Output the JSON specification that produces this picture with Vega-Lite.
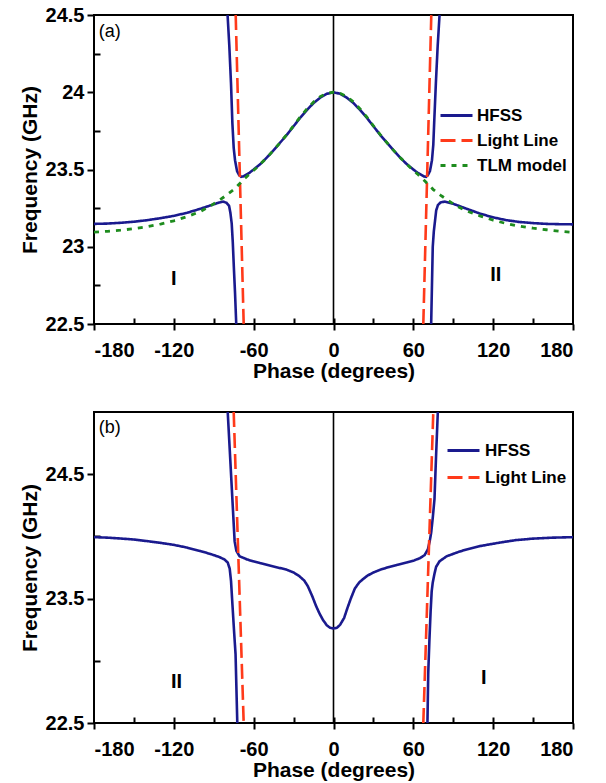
{
  "$schema": "https://vega.github.io/schema/vega-lite/v6.json",
  "background": "white",
  "padding": {"left": 18, "top": 4, "right": 5, "bottom": 2},
  "config": {
    "view": {"stroke": "black", "strokeWidth": 2},
    "font": "Liberation Sans",
    "axis": {"labelFont": "Liberation Sans", "labelFontWeight": "bold", "labelFontSize": 20, "labelColor": "black", "titleFont": "Liberation Sans", "titleFontWeight": "bold", "titleFontSize": 21, "titleColor": "black", "tickColor": "black", "tickWidth": 2, "domain": false, "grid": false},
    "legend": {"labelFont": "Liberation Sans", "labelFontWeight": "bold", "labelFontSize": 17, "labelColor": "black"}
  },
  "datasets": {
    "a_lines": [
      {"series": "HFSS", "branch": "L", "phase": -180, "freq": 23.148},
      {"series": "HFSS", "branch": "L", "phase": -170, "freq": 23.15},
      {"series": "HFSS", "branch": "L", "phase": -160, "freq": 23.155},
      {"series": "HFSS", "branch": "L", "phase": -150, "freq": 23.162},
      {"series": "HFSS", "branch": "L", "phase": -140, "freq": 23.172},
      {"series": "HFSS", "branch": "L", "phase": -130, "freq": 23.185},
      {"series": "HFSS", "branch": "L", "phase": -120, "freq": 23.2},
      {"series": "HFSS", "branch": "L", "phase": -110, "freq": 23.22},
      {"series": "HFSS", "branch": "L", "phase": -100, "freq": 23.246},
      {"series": "HFSS", "branch": "L", "phase": -95, "freq": 23.26},
      {"series": "HFSS", "branch": "L", "phase": -90, "freq": 23.275},
      {"series": "HFSS", "branch": "L", "phase": -86, "freq": 23.286},
      {"series": "HFSS", "branch": "L", "phase": -83, "freq": 23.292},
      {"series": "HFSS", "branch": "L", "phase": -80.5, "freq": 23.285},
      {"series": "HFSS", "branch": "L", "phase": -78.5, "freq": 23.265},
      {"series": "HFSS", "branch": "L", "phase": -77.5, "freq": 23.22},
      {"series": "HFSS", "branch": "L", "phase": -76.5, "freq": 23.15},
      {"series": "HFSS", "branch": "L", "phase": -75.7, "freq": 23.03},
      {"series": "HFSS", "branch": "L", "phase": -74.8, "freq": 22.85},
      {"series": "HFSS", "branch": "L", "phase": -74, "freq": 22.7},
      {"series": "HFSS", "branch": "L", "phase": -73.1, "freq": 22.5},
      {"series": "HFSS", "branch": "C", "phase": -79.6, "freq": 24.5},
      {"series": "HFSS", "branch": "C", "phase": -78.3, "freq": 24.3},
      {"series": "HFSS", "branch": "C", "phase": -77, "freq": 24.05},
      {"series": "HFSS", "branch": "C", "phase": -76, "freq": 23.8},
      {"series": "HFSS", "branch": "C", "phase": -75, "freq": 23.64},
      {"series": "HFSS", "branch": "C", "phase": -74, "freq": 23.56},
      {"series": "HFSS", "branch": "C", "phase": -72.5, "freq": 23.49},
      {"series": "HFSS", "branch": "C", "phase": -71, "freq": 23.465},
      {"series": "HFSS", "branch": "C", "phase": -69.4, "freq": 23.452},
      {"series": "HFSS", "branch": "C", "phase": -68, "freq": 23.455},
      {"series": "HFSS", "branch": "C", "phase": -66, "freq": 23.465},
      {"series": "HFSS", "branch": "C", "phase": -63, "freq": 23.48},
      {"series": "HFSS", "branch": "C", "phase": -60, "freq": 23.5},
      {"series": "HFSS", "branch": "C", "phase": -55, "freq": 23.535},
      {"series": "HFSS", "branch": "C", "phase": -50, "freq": 23.578},
      {"series": "HFSS", "branch": "C", "phase": -45, "freq": 23.625},
      {"series": "HFSS", "branch": "C", "phase": -40, "freq": 23.675},
      {"series": "HFSS", "branch": "C", "phase": -35, "freq": 23.725},
      {"series": "HFSS", "branch": "C", "phase": -30, "freq": 23.78},
      {"series": "HFSS", "branch": "C", "phase": -25, "freq": 23.835},
      {"series": "HFSS", "branch": "C", "phase": -20, "freq": 23.885},
      {"series": "HFSS", "branch": "C", "phase": -15, "freq": 23.93},
      {"series": "HFSS", "branch": "C", "phase": -10, "freq": 23.965},
      {"series": "HFSS", "branch": "C", "phase": -5, "freq": 23.99},
      {"series": "HFSS", "branch": "C", "phase": 0, "freq": 24.0},
      {"series": "HFSS", "branch": "C", "phase": 5, "freq": 23.99},
      {"series": "HFSS", "branch": "C", "phase": 10, "freq": 23.965},
      {"series": "HFSS", "branch": "C", "phase": 15, "freq": 23.93},
      {"series": "HFSS", "branch": "C", "phase": 20, "freq": 23.885},
      {"series": "HFSS", "branch": "C", "phase": 25, "freq": 23.835},
      {"series": "HFSS", "branch": "C", "phase": 30, "freq": 23.78},
      {"series": "HFSS", "branch": "C", "phase": 35, "freq": 23.725},
      {"series": "HFSS", "branch": "C", "phase": 40, "freq": 23.675},
      {"series": "HFSS", "branch": "C", "phase": 45, "freq": 23.625},
      {"series": "HFSS", "branch": "C", "phase": 50, "freq": 23.578},
      {"series": "HFSS", "branch": "C", "phase": 55, "freq": 23.535},
      {"series": "HFSS", "branch": "C", "phase": 60, "freq": 23.5},
      {"series": "HFSS", "branch": "C", "phase": 63, "freq": 23.48},
      {"series": "HFSS", "branch": "C", "phase": 66, "freq": 23.465},
      {"series": "HFSS", "branch": "C", "phase": 68, "freq": 23.455},
      {"series": "HFSS", "branch": "C", "phase": 69.6, "freq": 23.452},
      {"series": "HFSS", "branch": "C", "phase": 71, "freq": 23.465},
      {"series": "HFSS", "branch": "C", "phase": 72.5, "freq": 23.49},
      {"series": "HFSS", "branch": "C", "phase": 74, "freq": 23.56},
      {"series": "HFSS", "branch": "C", "phase": 75, "freq": 23.66},
      {"series": "HFSS", "branch": "C", "phase": 75.9, "freq": 23.85},
      {"series": "HFSS", "branch": "C", "phase": 77, "freq": 24.07},
      {"series": "HFSS", "branch": "C", "phase": 78.3, "freq": 24.3},
      {"series": "HFSS", "branch": "C", "phase": 79.7, "freq": 24.5},
      {"series": "HFSS", "branch": "R", "phase": 73.4, "freq": 22.5},
      {"series": "HFSS", "branch": "R", "phase": 74, "freq": 22.75},
      {"series": "HFSS", "branch": "R", "phase": 74.6, "freq": 23.0},
      {"series": "HFSS", "branch": "R", "phase": 75.4, "freq": 23.1},
      {"series": "HFSS", "branch": "R", "phase": 76.2, "freq": 23.16},
      {"series": "HFSS", "branch": "R", "phase": 77.2, "freq": 23.236},
      {"series": "HFSS", "branch": "R", "phase": 78.5, "freq": 23.27},
      {"series": "HFSS", "branch": "R", "phase": 80.5, "freq": 23.287},
      {"series": "HFSS", "branch": "R", "phase": 83.5, "freq": 23.292},
      {"series": "HFSS", "branch": "R", "phase": 90, "freq": 23.278},
      {"series": "HFSS", "branch": "R", "phase": 100, "freq": 23.246},
      {"series": "HFSS", "branch": "R", "phase": 110, "freq": 23.215},
      {"series": "HFSS", "branch": "R", "phase": 120, "freq": 23.19},
      {"series": "HFSS", "branch": "R", "phase": 130, "freq": 23.172},
      {"series": "HFSS", "branch": "R", "phase": 140, "freq": 23.16},
      {"series": "HFSS", "branch": "R", "phase": 150, "freq": 23.153},
      {"series": "HFSS", "branch": "R", "phase": 160, "freq": 23.148},
      {"series": "HFSS", "branch": "R", "phase": 170, "freq": 23.146},
      {"series": "HFSS", "branch": "R", "phase": 180, "freq": 23.145},
      {"series": "Light Line", "branch": "LL", "phase": -73.5, "freq": 24.5},
      {"series": "Light Line", "branch": "LL", "phase": -67.5, "freq": 22.5},
      {"series": "Light Line", "branch": "LR", "phase": 67.5, "freq": 22.5},
      {"series": "Light Line", "branch": "LR", "phase": 73.5, "freq": 24.5},
      {"series": "TLM model", "branch": "T", "phase": -180, "freq": 23.095},
      {"series": "TLM model", "branch": "T", "phase": -170, "freq": 23.1},
      {"series": "TLM model", "branch": "T", "phase": -160, "freq": 23.107},
      {"series": "TLM model", "branch": "T", "phase": -150, "freq": 23.117},
      {"series": "TLM model", "branch": "T", "phase": -140, "freq": 23.13},
      {"series": "TLM model", "branch": "T", "phase": -130, "freq": 23.147},
      {"series": "TLM model", "branch": "T", "phase": -120, "freq": 23.168},
      {"series": "TLM model", "branch": "T", "phase": -110, "freq": 23.195},
      {"series": "TLM model", "branch": "T", "phase": -100, "freq": 23.228},
      {"series": "TLM model", "branch": "T", "phase": -93, "freq": 23.262},
      {"series": "TLM model", "branch": "T", "phase": -86, "freq": 23.3},
      {"series": "TLM model", "branch": "T", "phase": -80.6, "freq": 23.333},
      {"series": "TLM model", "branch": "T", "phase": -75, "freq": 23.37},
      {"series": "TLM model", "branch": "T", "phase": -70.6, "freq": 23.408},
      {"series": "TLM model", "branch": "T", "phase": -67, "freq": 23.44},
      {"series": "TLM model", "branch": "T", "phase": -63, "freq": 23.472},
      {"series": "TLM model", "branch": "T", "phase": -58, "freq": 23.51},
      {"series": "TLM model", "branch": "T", "phase": -55, "freq": 23.535},
      {"series": "TLM model", "branch": "T", "phase": -50, "freq": 23.578},
      {"series": "TLM model", "branch": "T", "phase": -45, "freq": 23.625},
      {"series": "TLM model", "branch": "T", "phase": -40, "freq": 23.675},
      {"series": "TLM model", "branch": "T", "phase": -35, "freq": 23.727},
      {"series": "TLM model", "branch": "T", "phase": -30, "freq": 23.783},
      {"series": "TLM model", "branch": "T", "phase": -25, "freq": 23.84},
      {"series": "TLM model", "branch": "T", "phase": -20, "freq": 23.892},
      {"series": "TLM model", "branch": "T", "phase": -15, "freq": 23.937},
      {"series": "TLM model", "branch": "T", "phase": -10, "freq": 23.972},
      {"series": "TLM model", "branch": "T", "phase": -5, "freq": 23.993},
      {"series": "TLM model", "branch": "T", "phase": 0, "freq": 24.0},
      {"series": "TLM model", "branch": "T", "phase": 5, "freq": 23.993},
      {"series": "TLM model", "branch": "T", "phase": 10, "freq": 23.972},
      {"series": "TLM model", "branch": "T", "phase": 15, "freq": 23.937},
      {"series": "TLM model", "branch": "T", "phase": 20, "freq": 23.892},
      {"series": "TLM model", "branch": "T", "phase": 25, "freq": 23.84},
      {"series": "TLM model", "branch": "T", "phase": 30, "freq": 23.783},
      {"series": "TLM model", "branch": "T", "phase": 35, "freq": 23.727},
      {"series": "TLM model", "branch": "T", "phase": 40, "freq": 23.675},
      {"series": "TLM model", "branch": "T", "phase": 45, "freq": 23.625},
      {"series": "TLM model", "branch": "T", "phase": 50, "freq": 23.578},
      {"series": "TLM model", "branch": "T", "phase": 55, "freq": 23.535},
      {"series": "TLM model", "branch": "T", "phase": 58, "freq": 23.51},
      {"series": "TLM model", "branch": "T", "phase": 63, "freq": 23.472},
      {"series": "TLM model", "branch": "T", "phase": 67, "freq": 23.44},
      {"series": "TLM model", "branch": "T", "phase": 70.6, "freq": 23.408},
      {"series": "TLM model", "branch": "T", "phase": 75, "freq": 23.37},
      {"series": "TLM model", "branch": "T", "phase": 80.6, "freq": 23.333},
      {"series": "TLM model", "branch": "T", "phase": 86, "freq": 23.3},
      {"series": "TLM model", "branch": "T", "phase": 93, "freq": 23.262},
      {"series": "TLM model", "branch": "T", "phase": 100, "freq": 23.232},
      {"series": "TLM model", "branch": "T", "phase": 110, "freq": 23.2},
      {"series": "TLM model", "branch": "T", "phase": 120, "freq": 23.172},
      {"series": "TLM model", "branch": "T", "phase": 130, "freq": 23.15},
      {"series": "TLM model", "branch": "T", "phase": 140, "freq": 23.133},
      {"series": "TLM model", "branch": "T", "phase": 150, "freq": 23.12},
      {"series": "TLM model", "branch": "T", "phase": 160, "freq": 23.11},
      {"series": "TLM model", "branch": "T", "phase": 170, "freq": 23.1},
      {"series": "TLM model", "branch": "T", "phase": 180, "freq": 23.093}
    ],
    "b_lines": [
      {"series": "HFSS", "branch": "L", "phase": -180, "freq": 23.994},
      {"series": "HFSS", "branch": "L", "phase": -170, "freq": 23.99},
      {"series": "HFSS", "branch": "L", "phase": -160, "freq": 23.983},
      {"series": "HFSS", "branch": "L", "phase": -150, "freq": 23.975},
      {"series": "HFSS", "branch": "L", "phase": -140, "freq": 23.962},
      {"series": "HFSS", "branch": "L", "phase": -130, "freq": 23.948},
      {"series": "HFSS", "branch": "L", "phase": -120, "freq": 23.932},
      {"series": "HFSS", "branch": "L", "phase": -110, "freq": 23.91},
      {"series": "HFSS", "branch": "L", "phase": -100, "freq": 23.882},
      {"series": "HFSS", "branch": "L", "phase": -92, "freq": 23.857},
      {"series": "HFSS", "branch": "L", "phase": -86, "freq": 23.835},
      {"series": "HFSS", "branch": "L", "phase": -82, "freq": 23.815},
      {"series": "HFSS", "branch": "L", "phase": -79.5, "freq": 23.79},
      {"series": "HFSS", "branch": "L", "phase": -78, "freq": 23.74},
      {"series": "HFSS", "branch": "L", "phase": -77, "freq": 23.64},
      {"series": "HFSS", "branch": "L", "phase": -76, "freq": 23.46},
      {"series": "HFSS", "branch": "L", "phase": -74.8, "freq": 23.25},
      {"series": "HFSS", "branch": "L", "phase": -73.6, "freq": 23.05},
      {"series": "HFSS", "branch": "L", "phase": -72.3, "freq": 22.5},
      {"series": "HFSS", "branch": "C", "phase": -79.5, "freq": 25.0},
      {"series": "HFSS", "branch": "C", "phase": -77.5, "freq": 24.6},
      {"series": "HFSS", "branch": "C", "phase": -76, "freq": 24.3},
      {"series": "HFSS", "branch": "C", "phase": -75, "freq": 24.1},
      {"series": "HFSS", "branch": "C", "phase": -74.3, "freq": 23.96},
      {"series": "HFSS", "branch": "C", "phase": -73, "freq": 23.885},
      {"series": "HFSS", "branch": "C", "phase": -70.6, "freq": 23.84},
      {"series": "HFSS", "branch": "C", "phase": -65, "freq": 23.815},
      {"series": "HFSS", "branch": "C", "phase": -60.6, "freq": 23.8},
      {"series": "HFSS", "branch": "C", "phase": -55, "freq": 23.785},
      {"series": "HFSS", "branch": "C", "phase": -48, "freq": 23.766},
      {"series": "HFSS", "branch": "C", "phase": -42, "freq": 23.75},
      {"series": "HFSS", "branch": "C", "phase": -35.6, "freq": 23.734},
      {"series": "HFSS", "branch": "C", "phase": -30, "freq": 23.71},
      {"series": "HFSS", "branch": "C", "phase": -25.6, "freq": 23.68},
      {"series": "HFSS", "branch": "C", "phase": -22, "freq": 23.645},
      {"series": "HFSS", "branch": "C", "phase": -19.3, "freq": 23.6},
      {"series": "HFSS", "branch": "C", "phase": -16, "freq": 23.52},
      {"series": "HFSS", "branch": "C", "phase": -13, "freq": 23.438},
      {"series": "HFSS", "branch": "C", "phase": -10.5, "freq": 23.38},
      {"series": "HFSS", "branch": "C", "phase": -8, "freq": 23.33},
      {"series": "HFSS", "branch": "C", "phase": -5, "freq": 23.285},
      {"series": "HFSS", "branch": "C", "phase": -2.5, "freq": 23.265},
      {"series": "HFSS", "branch": "C", "phase": 0, "freq": 23.26},
      {"series": "HFSS", "branch": "C", "phase": 2.5, "freq": 23.265},
      {"series": "HFSS", "branch": "C", "phase": 5, "freq": 23.29},
      {"series": "HFSS", "branch": "C", "phase": 8, "freq": 23.345},
      {"series": "HFSS", "branch": "C", "phase": 10.5, "freq": 23.425},
      {"series": "HFSS", "branch": "C", "phase": 13, "freq": 23.5},
      {"series": "HFSS", "branch": "C", "phase": 16, "freq": 23.58},
      {"series": "HFSS", "branch": "C", "phase": 19.3, "freq": 23.63},
      {"series": "HFSS", "branch": "C", "phase": 22, "freq": 23.655},
      {"series": "HFSS", "branch": "C", "phase": 25.6, "freq": 23.685},
      {"series": "HFSS", "branch": "C", "phase": 30, "freq": 23.71},
      {"series": "HFSS", "branch": "C", "phase": 35.6, "freq": 23.734},
      {"series": "HFSS", "branch": "C", "phase": 42, "freq": 23.755},
      {"series": "HFSS", "branch": "C", "phase": 48, "freq": 23.772},
      {"series": "HFSS", "branch": "C", "phase": 55, "freq": 23.79},
      {"series": "HFSS", "branch": "C", "phase": 60.6, "freq": 23.807},
      {"series": "HFSS", "branch": "C", "phase": 65, "freq": 23.825},
      {"series": "HFSS", "branch": "C", "phase": 68.5, "freq": 23.85},
      {"series": "HFSS", "branch": "C", "phase": 70.9, "freq": 23.895},
      {"series": "HFSS", "branch": "C", "phase": 72.3, "freq": 23.96},
      {"series": "HFSS", "branch": "C", "phase": 73.4, "freq": 24.03},
      {"series": "HFSS", "branch": "C", "phase": 74.6, "freq": 24.15},
      {"series": "HFSS", "branch": "C", "phase": 75.9, "freq": 24.3},
      {"series": "HFSS", "branch": "C", "phase": 77.1, "freq": 24.65},
      {"series": "HFSS", "branch": "C", "phase": 78.4, "freq": 25.0},
      {"series": "HFSS", "branch": "R", "phase": 70.6, "freq": 22.5},
      {"series": "HFSS", "branch": "R", "phase": 71.2, "freq": 22.9},
      {"series": "HFSS", "branch": "R", "phase": 72.1, "freq": 23.17},
      {"series": "HFSS", "branch": "R", "phase": 73, "freq": 23.4},
      {"series": "HFSS", "branch": "R", "phase": 73.8, "freq": 23.56},
      {"series": "HFSS", "branch": "R", "phase": 74.6, "freq": 23.63},
      {"series": "HFSS", "branch": "R", "phase": 75.9, "freq": 23.7},
      {"series": "HFSS", "branch": "R", "phase": 77.1, "freq": 23.755},
      {"series": "HFSS", "branch": "R", "phase": 79.7, "freq": 23.8},
      {"series": "HFSS", "branch": "R", "phase": 85, "freq": 23.84},
      {"series": "HFSS", "branch": "R", "phase": 94.7, "freq": 23.878},
      {"series": "HFSS", "branch": "R", "phase": 100, "freq": 23.895},
      {"series": "HFSS", "branch": "R", "phase": 110, "freq": 23.922},
      {"series": "HFSS", "branch": "R", "phase": 124.8, "freq": 23.95},
      {"series": "HFSS", "branch": "R", "phase": 137, "freq": 23.97},
      {"series": "HFSS", "branch": "R", "phase": 149.8, "freq": 23.982},
      {"series": "HFSS", "branch": "R", "phase": 165, "freq": 23.99},
      {"series": "HFSS", "branch": "R", "phase": 180, "freq": 23.994},
      {"series": "Light Line", "branch": "LL", "phase": -75, "freq": 25.0},
      {"series": "Light Line", "branch": "LL", "phase": -67.5, "freq": 22.5},
      {"series": "Light Line", "branch": "LR", "phase": 67.5, "freq": 22.5},
      {"series": "Light Line", "branch": "LR", "phase": 75, "freq": 25.0}
    ],
    "a_text": [
      {"label": "I", "phase": -120, "freq": 22.79},
      {"label": "II", "phase": 122, "freq": 22.82}
    ],
    "a_panel": [{"label": "(a)", "phase": -176.5, "freq": 24.39}],
    "b_text": [
      {"label": "II", "phase": -118, "freq": 22.83},
      {"label": "I", "phase": 113, "freq": 22.86}
    ],
    "b_panel": [{"label": "(b)", "phase": -176.5, "freq": 24.87}],
    "zero": [{"p": 0}]
  },
  "spacing": 28,
  "resolve": {"scale": {"x": "independent", "y": "independent", "color": "independent", "strokeDash": "independent"}},
  "vconcat": [
    {
      "width": 479,
      "height": 309,
      "resolve": {"axis": {"x": "independent", "y": "independent"}},
      "layer": [
        {
          "data": {"name": "zero"},
          "mark": {"type": "rule", "color": "black", "strokeWidth": 1.6},
          "encoding": {"x": {"field": "p", "type": "quantitative", "axis": null}}
        },
        {
          "data": {"name": "a_lines"},
          "transform": [{"filter": "datum.series == 'HFSS'"}],
          "mark": {"type": "line", "strokeWidth": 2.6, "clip": true},
          "encoding": {
            "x": {"field": "phase", "type": "quantitative", "scale": {"domain": [-180, 180], "nice": false, "zero": false},
              "axis": {"orient": "bottom", "values": [-180, -120, -60, 0, 60, 120, 180], "labelExpr": "toString(datum.value)", "title": "Phase (degrees)", "tickSize": 6, "labelPadding": 10, "titlePadding": 0}},
            "y": {"field": "freq", "type": "quantitative", "scale": {"domain": [22.5, 24.5], "nice": false, "zero": false},
              "axis": {"orient": "left", "values": [22.5, 23, 23.5, 24, 24.5], "labelExpr": "toString(datum.value)", "title": "Frequency (GHz)", "tickSize": 7, "labelPadding": 3, "titlePadding": 5}},
            "color": {"field": "series", "type": "nominal", "scale": {"domain": ["HFSS", "Light Line", "TLM model"], "range": ["#1a1a8e", "#ff3a1a", "#1e8c1e"]},
              "legend": {"orient": "none", "legendX": 353, "legendY": 91, "title": null, "symbolType": "M-2,0L2,0", "symbolSize": 256, "symbolStrokeWidth": 3, "labelOffset": 11, "rowPadding": 7, "padding": 0}},
            "strokeDash": {"field": "series", "type": "nominal", "scale": {"domain": ["HFSS", "Light Line", "TLM model"], "range": [[1, 0], [15, 6], [5, 6]]},
              "legend": {"orient": "none", "legendX": 353, "legendY": 91, "title": null, "symbolType": "M-2,0L2,0", "symbolSize": 256, "symbolStrokeWidth": 3, "labelOffset": 11, "rowPadding": 7, "padding": 0}},
            "detail": {"field": "branch"}
          }
        },
        {
          "data": {"name": "a_lines"},
          "transform": [{"filter": "datum.series == 'Light Line'"}],
          "mark": {"type": "line", "strokeWidth": 2.6, "clip": true},
          "encoding": {
            "x": {"field": "phase", "type": "quantitative", "axis": {"orient": "bottom", "values": [-150, -90, -30, 30, 90, 150], "labels": false, "title": null, "tickSize": -6}},
            "y": {"field": "freq", "type": "quantitative", "axis": {"orient": "left", "values": [22.75, 23.25, 23.75, 24.25], "labels": false, "title": null, "tickSize": -6}},
            "color": {"field": "series", "type": "nominal"},
            "strokeDash": {"field": "series", "type": "nominal"},
            "detail": {"field": "branch"}
          }
        },
        {
          "data": {"name": "a_lines"},
          "transform": [{"filter": "datum.series == 'TLM model'"}],
          "mark": {"type": "line", "strokeWidth": 2.8, "clip": true},
          "encoding": {
            "x": {"field": "phase", "type": "quantitative", "axis": {"orient": "bottom", "values": [-120, -60, 0, 60, 120], "labels": false, "title": null, "tickSize": -6}},
            "y": {"field": "freq", "type": "quantitative", "axis": null},
            "color": {"field": "series", "type": "nominal"},
            "strokeDash": {"field": "series", "type": "nominal"},
            "detail": {"field": "branch"}
          }
        },
        {
          "data": {"name": "a_text"},
          "mark": {"type": "text", "font": "Liberation Sans", "fontWeight": "bold", "fontSize": 20, "color": "black"},
          "encoding": {
            "x": {"field": "phase", "type": "quantitative", "axis": null},
            "y": {"field": "freq", "type": "quantitative", "axis": null},
            "text": {"field": "label"}
          }
        },
        {
          "data": {"name": "a_panel"},
          "mark": {"type": "text", "font": "Liberation Sans", "fontSize": 18, "align": "left", "color": "black"},
          "encoding": {
            "x": {"field": "phase", "type": "quantitative", "axis": null},
            "y": {"field": "freq", "type": "quantitative", "axis": null},
            "text": {"field": "label"}
          }
        }
      ]
    },
    {
      "width": 479,
      "height": 311,
      "resolve": {"axis": {"x": "independent", "y": "independent"}},
      "layer": [
        {
          "data": {"name": "zero"},
          "mark": {"type": "rule", "color": "black", "strokeWidth": 1.6},
          "encoding": {"x": {"field": "p", "type": "quantitative", "axis": null}}
        },
        {
          "data": {"name": "b_lines"},
          "transform": [{"filter": "datum.series == 'HFSS'"}],
          "mark": {"type": "line", "strokeWidth": 2.6, "clip": true},
          "encoding": {
            "x": {"field": "phase", "type": "quantitative", "scale": {"domain": [-180, 180], "nice": false, "zero": false},
              "axis": {"orient": "bottom", "values": [-180, -120, -60, 0, 60, 120, 180], "labelExpr": "toString(datum.value)", "title": "Phase (degrees)", "tickSize": 6, "labelPadding": 10, "titlePadding": 0}},
            "y": {"field": "freq", "type": "quantitative", "scale": {"domain": [22.5, 25], "nice": false, "zero": false},
              "axis": {"orient": "left", "values": [22.5, 23.5, 24.5], "labelExpr": "toString(datum.value)", "title": "Frequency (GHz)", "tickSize": 7, "labelPadding": 3, "titlePadding": 5}},
            "color": {"field": "series", "type": "nominal", "scale": {"domain": ["HFSS", "Light Line"], "range": ["#1a1a8e", "#ff3a1a"]},
              "legend": {"orient": "none", "legendX": 360, "legendY": 29, "title": null, "symbolType": "M-2,0L2,0", "symbolSize": 256, "symbolStrokeWidth": 3, "labelOffset": 12, "rowPadding": 9, "padding": 0}},
            "strokeDash": {"field": "series", "type": "nominal", "scale": {"domain": ["HFSS", "Light Line"], "range": [[1, 0], [15, 6]]},
              "legend": {"orient": "none", "legendX": 360, "legendY": 29, "title": null, "symbolType": "M-2,0L2,0", "symbolSize": 256, "symbolStrokeWidth": 3, "labelOffset": 12, "rowPadding": 9, "padding": 0}},
            "detail": {"field": "branch"}
          }
        },
        {
          "data": {"name": "b_lines"},
          "transform": [{"filter": "datum.series == 'Light Line'"}],
          "mark": {"type": "line", "strokeWidth": 2.6, "clip": true},
          "encoding": {
            "x": {"field": "phase", "type": "quantitative", "axis": {"orient": "bottom", "values": [-150, -90, -30, 30, 90, 150], "labels": false, "title": null, "tickSize": -6}},
            "y": {"field": "freq", "type": "quantitative", "axis": {"orient": "left", "values": [23, 24], "labels": false, "title": null, "tickSize": -6}},
            "color": {"field": "series", "type": "nominal"},
            "strokeDash": {"field": "series", "type": "nominal"},
            "detail": {"field": "branch"}
          }
        },
        {
          "data": {"name": "b_text"},
          "mark": {"type": "text", "font": "Liberation Sans", "fontWeight": "bold", "fontSize": 20, "color": "black"},
          "encoding": {
            "x": {"field": "phase", "type": "quantitative", "axis": {"orient": "bottom", "values": [-120, -60, 0, 60, 120], "labels": false, "title": null, "tickSize": -6}},
            "y": {"field": "freq", "type": "quantitative", "axis": null},
            "text": {"field": "label"}
          }
        },
        {
          "data": {"name": "b_panel"},
          "mark": {"type": "text", "font": "Liberation Sans", "fontSize": 18, "align": "left", "color": "black"},
          "encoding": {
            "x": {"field": "phase", "type": "quantitative", "axis": null},
            "y": {"field": "freq", "type": "quantitative", "axis": null},
            "text": {"field": "label"}
          }
        }
      ]
    }
  ]
}
